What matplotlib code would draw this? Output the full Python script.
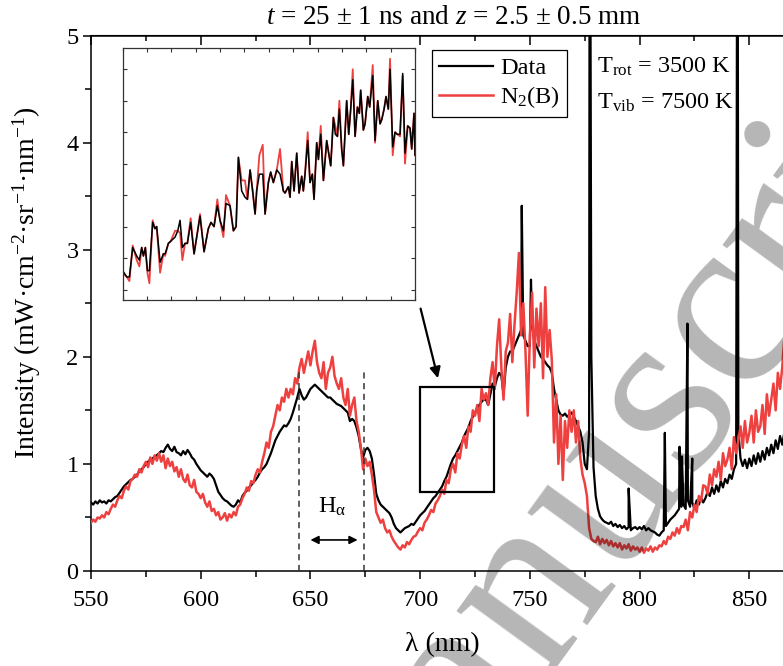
import numpy as np
import matplotlib.pyplot as plt
from matplotlib.patches import Rectangle
from matplotlib.ticker import MultipleLocator

plt.rcParams['font.family'] = ['Liberation Serif', 'DejaVu Serif']
plt.rcParams['mathtext.fontset'] = 'custom'
plt.rcParams['mathtext.rm'] = 'Liberation Serif'
plt.rcParams['mathtext.it'] = 'Liberation Serif:italic'
plt.rcParams['mathtext.bf'] = 'Liberation Serif:bold'

RED = '#ef4040'
W, H = 783, 666

# emission spectrum on a 1 nm grid, 550..870 nm
wl = np.arange(550, 871, 1.0)
data = [
    .64, .62, .65, .63, .66, .64, .65, .63, .66, .65,          # 550
    .67, .69, .70, .73, .76, .79, .81, .83, .85, .86,          # 560
    .88, .90, .93, .95, .97, 1.00, 1.02, 1.04, 1.05, 1.07,     # 570
    1.08, 1.10, 1.12, 1.11, 1.15, 1.18, 1.14, 1.12, 1.16, 1.11,  # 580
    1.10, 1.08, 1.12, 1.09, 1.13, 1.10, 1.06, 1.04, 1.00, .97,   # 590
    .94, .92, .90, .88, .91, .89, .86, .80, .74, .71,          # 600
    .68, .66, .65, .63, .61, .60, .62, .66, .64, .70,          # 610
    .73, .75, .78, .80, .83, .85, .88, .92, .95, .97,          # 620
    1.00, 1.05, 1.10, 1.16, 1.22, 1.26, 1.30, 1.33, 1.36, 1.35,  # 630
    1.38, 1.42, 1.48, 1.55, 1.62, 1.70, 1.64, 1.60, 1.62, 1.66,  # 640
    1.70, 1.72, 1.74, 1.72, 1.70, 1.68, 1.66, 1.64, 1.62, 1.62,  # 650
    1.60, 1.58, 1.56, 1.55, 1.54, 1.52, 1.50, 1.48, 1.40, 1.42,  # 660
    1.40, 1.34, 1.26, 1.14, 1.06, 1.13, 1.15, 1.12, 1.05, .90,   # 670
    .72, .66, .62, .60, .58, .56, .54, .50, .44, .40,          # 680
    .38, .36, .38, .40, .41, .42, .44, .43, .46, .49,          # 690
    .52, .54, .56, .59, .62, .65, .68, .70, .73, .76,          # 700
    .79, .84, .88, .94, 1.00, 1.05, 1.08, 1.12, 1.16, 1.20,    # 710
    1.26, 1.30, 1.34, 1.40, 1.44, 1.48, 1.52, 1.55, 1.58, 1.60,  # 720
    1.60, 1.55, 1.65, 1.75, 1.72, 1.80, 1.85, 1.82, 1.65, 1.90,  # 730
    2.00, 2.05, 2.05, 2.10, 2.15, 2.20, 2.25, 2.20, 2.15, 2.10,  # 740
    2.10, 2.30, 2.15, 2.10, 2.05, 2.00, 1.98, 1.95, 1.92, 1.90,  # 750
    1.85, 1.70, 1.60, 1.50, 1.46, 1.45, 1.47, 1.44, 1.46, 1.48,  # 760
    1.44, 1.40, 1.35, 1.30, 1.20, 1.00, .95, 1.30, 2.00, .97,    # 770
    .70, .58, .51, .48, .46, .45, .44, .46, .42, .44,          # 780
    .41, .43, .40, .42, .39, .41, .38, .40, .41, .39,          # 790
    .41, .39, .42, .38, .40, .38, .37, .36, .34, .33,          # 800
    .36, .38, .42, .45, .48, .50, .52, .55, .58, .60,          # 810
    .62, .58, .66, .60, .64, .58, .66, .62, .68, .64,          # 820
    .68, .74, .70, .78, .72, .80, .74, .84, .78, .86,          # 830
    .82, .90, .86, .95, 1.00, 1.30, 1.05, .98, 1.04, .96,      # 840
    1.05, .98, 1.08, 1.00, 1.10, 1.02, 1.12, 1.04, 1.15, 1.08,   # 850
    1.18, 1.10, 1.22, 1.14, 1.26, 1.18, 1.30, 1.22, 1.32, 1.26,  # 860
    1.35,
]
n2b = [
    .45, .48, .46, .50, .49, .52, .50, .55, .53, .58,          # 550
    .62, .60, .66, .70, .68, .75, .79, .76, .84, .86,          # 560
    .90, .88, .95, .92, .98, 1.02, .97, 1.06, 1.00, 1.08,      # 570
    1.03, 1.10, 1.02, 1.08, .96, 1.05, .98, 1.02, .93, .97,    # 580
    .88, .95, .86, .83, .90, .80, .78, .85, .74, .72,          # 590
    .68, .72, .64, .60, .65, .56, .58, .52, .55, .48,          # 600
    .50, .54, .47, .53, .50, .55, .52, .60, .62, .68,          # 610
    .72, .78, .75, .84, .82, .90, .95, .92, 1.02, 1.10,        # 620
    1.20, 1.15, 1.30, 1.35, 1.45, 1.55, 1.50, 1.62, 1.58, 1.70,  # 630
    1.62, 1.70, 1.65, 1.80, 1.75, 1.90, 1.98, 1.85, 1.95, 2.05,  # 640
    1.92, 2.05, 2.15, 1.95, 1.85, 1.80, 1.95, 1.70, 1.85, 1.90,  # 650
    2.00, 1.82, 1.75, 1.70, 1.80, 1.62, 1.55, 1.70, 1.45, 1.55,  # 660
    1.62, 1.40, 1.30, 1.15, .95, 1.05, .98, 1.02, .90, .75,      # 670
    .55, .50, .45, .48, .40, .36, .38, .32, .28, .25,          # 680
    .22, .20, .24, .22, .27, .25, .29, .32, .33, .37,          # 690
    .40, .38, .45, .48, .52, .57, .55, .63, .66, .70,          # 700
    .76, .72, .85, .82, .95, 1.00, .92, 1.10, 1.05, 1.18,      # 710
    1.26, 1.15, 1.35, 1.30, 1.50, 1.45, 1.55, 1.40, 1.70, 1.60,  # 720
    1.66, 1.55, 1.80, 1.95, 1.70, 2.10, 2.35, 1.90, 1.60, 2.05,  # 730
    2.13, 2.40, 1.95, 2.30, 2.60, 2.97, 2.20, 2.50, 2.05, 1.45,  # 740
    2.20, 2.60, 1.90, 2.45, 2.10, 2.50, 1.80, 2.65, 2.00, 2.25,  # 750
    1.97, 1.20, 1.65, 1.00, 1.45, .85, 1.40, 1.15, 1.50, 1.30,   # 760
    1.50, 1.20, 1.40, 1.05, .90, .82, .70, .40, .30, .28,      # 770
    .27, .32, .25, .30, .26, .29, .24, .28, .23, .26,          # 780
    .22, .26, .20, .24, .21, .25, .19, .23, .20, .22,          # 790
    .18, .22, .17, .21, .19, .23, .18, .22, .20, .24,          # 800
    .23, .28, .25, .32, .30, .36, .33, .40, .35, .42,          # 810
    .41, .48, .38, .55, .50, .62, .55, .70, .65, .80,          # 820
    .79, .72, .90, .80, .95, .88, 1.02, .85, 1.10, .98,        # 830
    1.04, 1.15, .95, 1.25, 1.10, 1.22, 1.35, 1.15, 1.40, 1.20,   # 840
    1.29, 1.45, 1.20, 1.50, 1.30, 1.35, 1.55, 1.28, 1.65, 1.45,  # 850
    1.60, 1.75, 1.50, 1.85, 1.70, 1.90, 2.20, 1.80, 2.00, 1.95,  # 860
    2.00,
]

# narrow atomic lines in the measured spectrum (O I 777 / 844 run off scale)
line_nm = [746.3, 750.5, 777.3, 795.0, 811.5, 818.2, 819.3, 821.8, 824.0, 844.6]
line_peak = [3.41, 2.72, 8.0, 0.77, 1.29, 1.16, 1.07, 2.31, 1.05, 8.0]

# inset: detail of the rising N2(B) edge
ins_nm = [
    710.00, 710.33, 710.55, 710.82, 711.15, 711.37, 711.56, 711.70, 711.86, 712.03,
    712.19, 712.46, 712.65, 712.79, 713.07, 713.34, 713.48, 713.75, 713.94, 714.30,
    714.52, 714.71, 714.90, 715.12, 715.31, 715.58, 715.86, 716.13, 716.35, 716.68,
    717.03, 717.25, 717.50, 717.77, 717.99, 718.27, 718.48, 718.81, 719.09, 719.31,
    719.50, 719.77, 720.04, 720.24, 720.46, 720.67, 720.87, 721.00, 721.22, 721.50,
    721.69, 721.96, 722.15, 722.37, 722.65, 722.92, 723.19, 723.33, 723.60, 723.74,
    723.88, 724.07, 724.29, 724.48, 724.70, 724.83, 724.97, 725.19, 725.38, 725.57,
    725.71, 725.93, 726.07, 726.26, 726.48, 726.75, 726.94, 727.08, 727.30, 727.46,
    727.63, 727.79, 727.98, 728.12, 728.39, 728.56, 728.72, 728.89, 729.08, 729.27,
    729.43, 729.54, 729.76, 729.90, 730.12, 730.28, 730.53, 730.72, 730.94, 731.13,
    731.27, 731.46, 731.62, 731.81, 731.95, 732.17, 732.36, 732.55, 732.77, 732.99,
    733.18, 733.40, 733.59, 733.73, 733.92, 734.00,
]
ins_data = [
    .84, .81, .81, .95, .91, .89, .95, .91, .95, .84,
    .84, 1.07, 1.04, 1.05, .88, .92, .92, .97, .98, 1.00,
    1.03, 1.08, .95, .97, .97, 1.07, .92, 1.02, 1.10, .93,
    1.04, 1.07, 1.05, 1.15, 1.08, 1.03, 1.16, 1.15, 1.03, 1.05,
    1.38, 1.22, 1.19, 1.18, 1.32, 1.22, 1.11, 1.22, 1.30, 1.30,
    1.11, 1.26, 1.31, 1.26, 1.32, 1.30, 1.22, 1.21, 1.24, 1.19,
    1.36, 1.22, 1.40, 1.21, 1.29, 1.22, 1.30, 1.46, 1.26, 1.30,
    1.18, 1.45, 1.37, 1.49, 1.27, 1.46, 1.39, 1.34, 1.57, 1.49,
    1.48, 1.61, 1.42, 1.34, 1.65, 1.49, 1.61, 1.75, 1.48, 1.62,
    1.59, 1.70, 1.51, 1.54, 1.67, 1.62, 1.77, 1.46, 1.65, 1.54,
    1.56, 1.61, 1.67, 1.61, 1.80, 1.43, 1.50, 1.49, 1.49, 1.78,
    1.40, 1.53, 1.52, 1.42, 1.59, 1.39,
]
ins_n2b = [
    .83, .81, .79, .96, .89, .86, .95, .91, .95, .83,
    .78, 1.08, 1.04, 1.05, .83, .92, .91, .97, .98, 1.03,
    1.03, 1.02, .89, .97, .97, 1.09, .92, 1.02, 1.11, .93,
    1.04, 1.07, 1.05, 1.18, 1.08, 1.00, 1.20, 1.15, 1.03, 1.05,
    1.38, 1.27, 1.27, 1.18, 1.32, 1.22, 1.11, 1.22, 1.39, 1.44,
    1.11, 1.26, 1.31, 1.26, 1.32, 1.42, 1.22, 1.21, 1.24, 1.19,
    1.36, 1.22, 1.40, 1.21, 1.29, 1.22, 1.30, 1.50, 1.26, 1.30,
    1.18, 1.45, 1.37, 1.53, 1.27, 1.46, 1.39, 1.34, 1.57, 1.53,
    1.48, 1.65, 1.42, 1.34, 1.65, 1.49, 1.61, 1.80, 1.48, 1.62,
    1.59, 1.70, 1.51, 1.54, 1.67, 1.62, 1.82, 1.45, 1.65, 1.54,
    1.56, 1.61, 1.67, 1.61, 1.85, 1.39, 1.50, 1.49, 1.48, 1.77,
    1.35, 1.53, 1.52, 1.42, 1.59, 1.39,
]

fig = plt.figure(figsize=(W / 100, H / 100), dpi=100)
ax = fig.add_axes([91 / W, 95 / H, 702.2 / W, 535.5 / H])

xd = np.concatenate([wl, line_nm])
yd = np.concatenate([data, line_peak])
o = np.argsort(xd)
ax.plot(xd[o], yd[o], color='k', lw=1.6, label='Data', zorder=2)
ax.plot(wl, n2b, color=RED, lw=1.8, label='N$_2$(B)', zorder=3)

ax.set_xlim(550, 870)
ax.set_ylim(0, 5)
ax.xaxis.set_major_locator(MultipleLocator(50))
ax.xaxis.set_minor_locator(MultipleLocator(25))
ax.yaxis.set_major_locator(MultipleLocator(1))
ax.yaxis.set_minor_locator(MultipleLocator(0.5))
ax.tick_params(which='both', direction='out', labelsize=17.5, width=1.1)
ax.tick_params(axis='x', which='major', length=6, pad=8)
ax.tick_params(axis='x', which='minor', length=4)
ax.tick_params(axis='y', which='major', length=6, pad=3)
ax.tick_params(axis='y', which='minor', length=4.5)
for s in ax.spines.values():
    s.set_linewidth(1.1)

top = ax.secondary_xaxis('top')
top.xaxis.set_major_locator(MultipleLocator(50))
top.xaxis.set_minor_locator(MultipleLocator(25))
top.tick_params(which='both', direction='in', labeltop=False, width=1.1)
top.tick_params(which='major', length=7)
top.tick_params(which='minor', length=4.5)

# H-alpha window
for xv in (645, 674.5):
    ax.plot([xv, xv], [0, 1.88], ls=(0, (4, 3)), color='#333333', lw=1.1, zorder=4)
ax.annotate('', xy=(650, 0.29), xytext=(671.5, 0.29),
            arrowprops=dict(arrowstyle='<|-|>', color='k', lw=1.2,
                            mutation_scale=12, shrinkA=0, shrinkB=0))
ax.text(660, 0.6, r'H$_{\mathrm{α}}$', ha='center', va='center', fontsize=17.5)

# zoom box and pointer to the inset
ax.add_patch(Rectangle((700, 0.733), 33.7, 0.984, fill=False, lw=1.6, ec='k', zorder=5))
ax.annotate('', xy=(708.1, 1.80), xytext=(700.2, 2.45),
            arrowprops=dict(arrowstyle='-|>', color='k', lw=1.6,
                            mutation_scale=16, shrinkA=0, shrinkB=0))

ax.text(780.6, 4.71, r'T$_{\rm rot}$ = 3500 K', fontsize=17.5, va='center')
ax.text(780.6, 4.37, r'T$_{\rm vib}$ = 7500 K', fontsize=17.5, va='center')

leg = ax.legend(loc='upper left', bbox_to_anchor=(432 / W, 1 - 50 / H),
                bbox_transform=fig.transFigure, fancybox=False, edgecolor='k',
                framealpha=1, fontsize=17.5, handlelength=2.2, handletextpad=0.3,
                borderpad=0.3, labelspacing=0.2, borderaxespad=0)
leg.get_frame().set_linewidth(0.9)

# inset
axi = fig.add_axes([122.7 / W, (H - 300) / H, 292.3 / W, 251.7 / H])
axi.plot(ins_nm, ins_n2b, color=RED, lw=1.3)
axi.plot(ins_nm, ins_data, color='k', lw=1.1)
axi.set_xlim(710, 734)
axi.set_ylim(0.7, 1.9)
axi.xaxis.set_major_locator(MultipleLocator(2))
axi.yaxis.set_major_locator(MultipleLocator(0.15))
axi.tick_params(which='both', direction='in', top=True, right=True,
                labelbottom=False, labelleft=False, length=3, width=0.8, color='#333333')
for s in axi.spines.values():
    s.set_linewidth(0.9)
    s.set_color('#333333')

fig.text(454 / W, 1 - 17 / H, r'$t$ = 25 ± 1 ns and $z$ = 2.5 ± 0.5 mm',
         ha='center', va='center', fontsize=19.5)
fig.text(27 / W, 1 - 283 / H, r'Intensity (mW·cm$^{-2}$·sr$^{-1}$·nm$^{-1}$)',
         rotation=90, ha='center', va='center', fontsize=20)
fig.text(442 / W, 1 - 645 / H, 'λ (nm)', ha='center', va='center', fontsize=20)

# "manuscript" watermark laid over the figure
fig.text(641.5 / W, 1 - 442.5 / H, 'manuscript', rotation=54, rotation_mode='anchor',
         ha='center', va='center', fontsize=178, color='k', alpha=0.29, zorder=20)

fig.savefig('out.png', dpi=100)
